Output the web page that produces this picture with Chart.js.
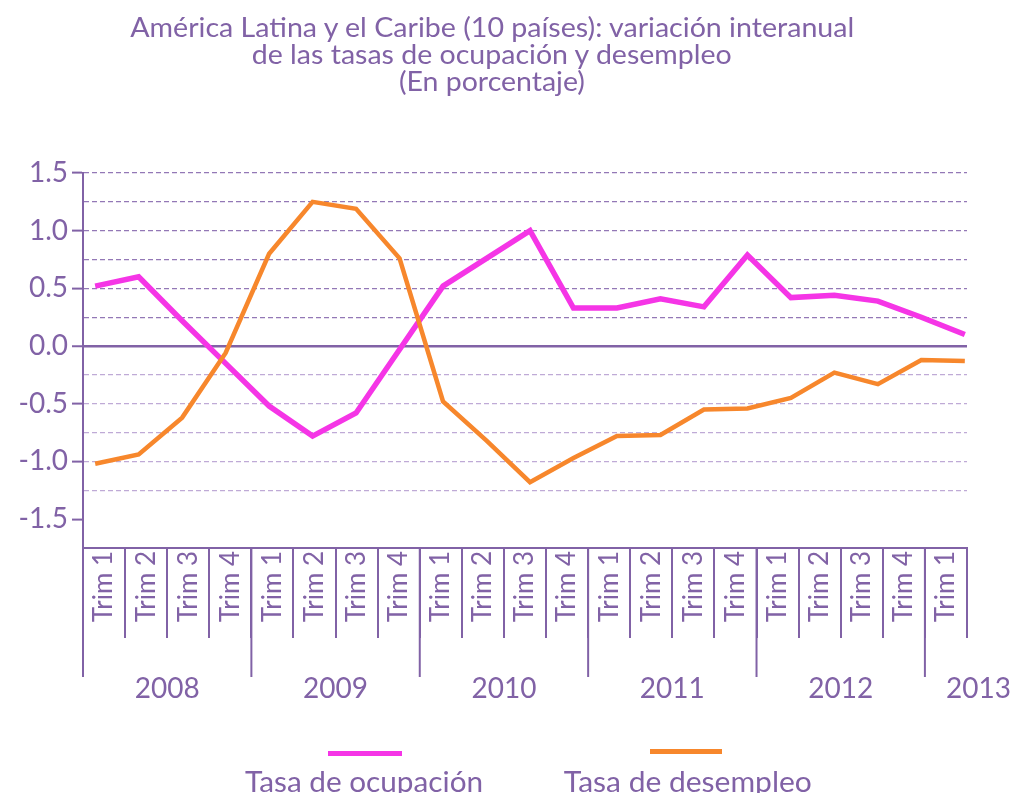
<!DOCTYPE html>
<html>
<head>
<meta charset="utf-8">
<script src="https://cdn.jsdelivr.net/npm/chart.js@4.4.1/dist/chart.umd.min.js"></script>
<style>
  html, body { margin: 0; padding: 0; background: #ffffff; }
  #wrap { position: relative; width: 1016px; height: 793px; overflow: hidden; font-family: Lato, "Open Sans", sans-serif; color: #8162A6; }
  #c { position: absolute; left: 0; top: 0; }
  .line { position: absolute; left: 0; width: 984px; text-align: center; white-space: nowrap; }
  .fit { display: inline-block; transform-origin: 50% 50%; }
  .tl { font-size: 26px; line-height: 26px; }
  .lg { position: absolute; white-space: nowrap; text-align: center; font-size: 29px; line-height: 29px; }
  .sw { position: absolute; height: 5px; }
</style>
</head>
<body>
<div id="wrap">
  <canvas id="c" width="1016" height="793"></canvas>
  <div class="line tl" style="top:14px"><span class="fit" data-w="724">América Latina y el Caribe (10 países): variación interanual</span></div>
  <div class="line tl" style="top:41px"><span class="fit" data-w="480">de las tasas de ocupación y desempleo</span></div>
  <div class="line tl" style="top:68px"><span class="fit" data-w="186">(En porcentaje)</span></div>

  <div class="sw" style="left:328px; top:751px; width:74px; background:#F535E6;"></div>
  <div class="sw" style="left:650px; top:749px; width:72px; background:#F7872C;"></div>
  <div class="lg" style="left:164px; width:400px; top:766px;"><span class="fit" data-w="238">Tasa de ocupación</span></div>
  <div class="lg" style="left:488px; width:400px; top:766px;"><span class="fit" data-w="248">Tasa de desempleo</span></div>
</div>

<script>
// ---------------- data ----------------
const quarters = ['Trim 1','Trim 2','Trim 3','Trim 4',
                  'Trim 1','Trim 2','Trim 3','Trim 4',
                  'Trim 1','Trim 2','Trim 3','Trim 4',
                  'Trim 1','Trim 2','Trim 3','Trim 4',
                  'Trim 1','Trim 2','Trim 3','Trim 4',
                  'Trim 1'];
const years = ['2008','2009','2010','2011','2012','2013'];
const quartersPerYear = [4, 4, 4, 4, 4, 1];

const ocupacion = [0.52, 0.60, 0.22, -0.15, -0.52, -0.78, -0.58, -0.03, 0.52, 0.76, 1.00,
                   0.33, 0.33, 0.41, 0.34, 0.79, 0.42, 0.44, 0.39, 0.25, 0.10];
const desempleo = [-1.02, -0.94, -0.62, -0.06, 0.80, 1.25, 1.19, 0.76, -0.48, -0.82, -1.18,
                   -0.97, -0.78, -0.77, -0.55, -0.54, -0.45, -0.23, -0.33, -0.12, -0.13];

const seriesNames = ['Tasa de ocupación', 'Tasa de desempleo'];
const yMin = -1.75, yMax = 1.5, yStep = 0.25;

// ---------------- style ----------------
const PURPLE = '#8162A6';
const GRID_UP = '#9378B6';
const GRID_DOWN = '#BFAAD6';
const MAGENTA = '#F535E6';
const ORANGE = '#F7872C';
const FONT = 'Lato';

const isMajor = v => Math.abs(v * 2 - Math.round(v * 2)) < 1e-9;

const yearsPlugin = {
  id: 'years',
  afterDraw(chart) {
    const s = chart.scales.cat;
    const ctx = chart.ctx;
    const w = (s.right - s.left) / quarters.length;
    ctx.save();
    ctx.strokeStyle = PURPLE;
    ctx.lineWidth = 2;
    ctx.fillStyle = PURPLE;
    ctx.font = '28px ' + FONT;
    ctx.textBaseline = 'middle';
    let idx = 0;
    years.forEach((yr, k) => {
      const n = quartersPerYear[k];
      const x0 = s.getPixelForValue(idx) - w / 2;
      const x1 = s.getPixelForValue(idx + n - 1) + w / 2;
      ctx.beginPath();
      ctx.moveTo(x0, s.top);
      ctx.lineTo(x0, s.top + 129);
      ctx.stroke();
      if (n === 4) {
        ctx.textAlign = 'center';
        ctx.fillText(yr, (x0 + x1) / 2, s.top + 141);
      } else {
        ctx.textAlign = 'left';
        ctx.fillText(yr, x0 + 0.5 * w, s.top + 141);
      }
      idx += n;
    });
    ctx.restore();
  }
};

const ctx = document.getElementById('c').getContext('2d');
const chart = new Chart(ctx, {
  type: 'line',
  data: {
    datasets: [
      {
        label: seriesNames[0],
        data: ocupacion.map((v, i) => ({ x: i, y: v })),
        borderColor: MAGENTA,
        borderWidth: 5.5,
        pointRadius: 0,
        tension: 0,
        xAxisID: 'x',
        yAxisID: 'y',
        order: 2
      },
      {
        label: seriesNames[1],
        data: desempleo.map((v, i) => ({ x: i, y: v })),
        borderColor: ORANGE,
        borderWidth: 4.5,
        pointRadius: 0,
        tension: 0,
        xAxisID: 'x',
        yAxisID: 'y',
        order: 1
      }
    ]
  },
  options: {
    responsive: false,
    animation: false,
    devicePixelRatio: 1,
    layout: { padding: { left: 0, right: 49, top: 173, bottom: 0 } },
    plugins: { legend: { display: false }, title: { display: false }, tooltip: { enabled: false } },
    scales: {
      x: {
        type: 'linear',
        display: false,
        min: -0.28,
        max: 20.05
      },
      cat: {
        type: 'category',
        position: 'bottom',
        labels: quarters,
        offset: true,
        grid: {
          display: true,
          offset: true,
          drawOnChartArea: false,
          drawTicks: true,
          tickLength: 90,
          color: PURPLE,
          lineWidth: 2
        },
        border: { display: true, color: PURPLE, width: 2 },
        ticks: {
          autoSkip: false,
          maxRotation: 90,
          minRotation: 90,
          padding: -87,
          color: PURPLE,
          font: { family: FONT, size: 26 }
        },
        afterFit: s => { s.height = 245; }
      },
      y: {
        type: 'linear',
        min: yMin,
        max: yMax,
        afterFit: s => { s.width = 83; },
        ticks: {
          stepSize: yStep,
          autoSkip: false,
          padding: 4,
          color: PURPLE,
          font: { family: FONT, size: 28 },
          callback: v => isMajor(v) ? v.toFixed(1) : ''
        },
        grid: {
          drawTicks: true,
          tickLength: 11,
          tickWidth: 2,
          tickColor: c => (c.tick && isMajor(c.tick.value)) ? PURPLE : 'rgba(0,0,0,0)',
          color: c => {
            const v = c.tick ? c.tick.value : null;
            if (v === null) return 'rgba(0,0,0,0)';
            if (Math.abs(v) < 1e-9) return PURPLE;
            if (v <= -1.5 + 1e-9) return 'rgba(0,0,0,0)';
            return v > 0 ? GRID_UP : GRID_DOWN;
          },
          lineWidth: c => (c.tick && Math.abs(c.tick.value) < 1e-9) ? 2.5 : 1.2
        },
        border: {
          display: true,
          color: PURPLE,
          width: 2,
          dash: c => (c.tick && Math.abs(c.tick.value) < 1e-9) ? [] : [5, 3]
        }
      }
    }
  },
  plugins: [yearsPlugin]
});

function fitText() {
  document.querySelectorAll('.fit').forEach(el => {
    el.style.transform = 'none';
    const w = el.getBoundingClientRect().width;
    const target = parseFloat(el.dataset.w);
    if (w > 0) el.style.transform = 'scaleX(' + (target / w) + ')';
  });
}
fitText();
if (document.fonts && document.fonts.ready) {
  document.fonts.ready.then(() => { fitText(); chart.update(); });
}
</script>
</body>
</html>
